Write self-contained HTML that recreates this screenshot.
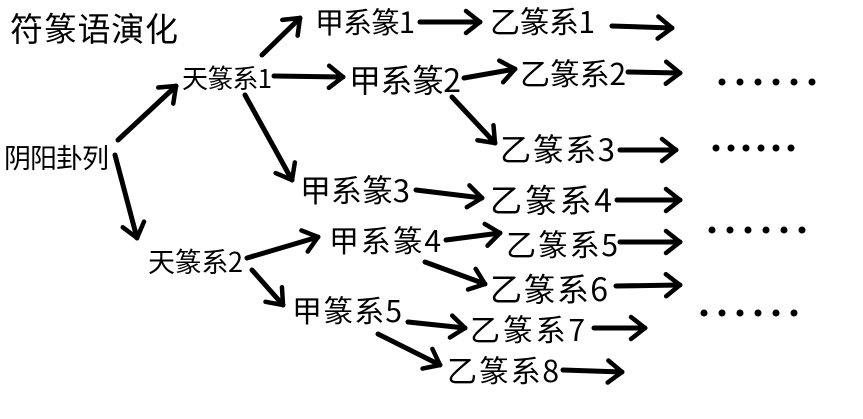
<!DOCTYPE html>
<html><head><meta charset="utf-8"><style>
html,body{margin:0;padding:0;background:#fff;}
svg{display:block;}
text{font-family:"Noto Sans CJK SC","Liberation Sans",sans-serif;fill:#000;}
</style></head><body>
<svg width="863" height="419" viewBox="0 0 863 419" xmlns="http://www.w3.org/2000/svg">
<defs>
<marker id="a" markerUnits="userSpaceOnUse" markerWidth="30" markerHeight="30" refX="20" refY="15" orient="auto" viewBox="0 0 30 30">
<path d="M6,4 L20,15 L6,26" fill="none" stroke="#000" stroke-width="4.5" stroke-linecap="round" stroke-linejoin="round"/>
</marker>
</defs>
<g stroke="#000" stroke-width="5" stroke-linecap="round" fill="none" marker-end="url(#a)">
<line x1="118" y1="140" x2="176" y2="86"/>
<line x1="115" y1="155" x2="137" y2="238"/>
<line x1="262" y1="55" x2="300" y2="18"/>
<line x1="274" y1="76" x2="343" y2="77"/>
<line x1="245" y1="95" x2="292" y2="180"/>
<line x1="420" y1="22" x2="480" y2="22"/>
<line x1="612" y1="26" x2="672" y2="28"/>
<line x1="464" y1="78" x2="515" y2="69"/>
<line x1="628" y1="72" x2="680" y2="73"/>
<line x1="452" y1="97" x2="495" y2="143"/>
<line x1="620" y1="150" x2="676" y2="150"/>
<line x1="416" y1="190" x2="482" y2="198"/>
<line x1="617" y1="200" x2="680" y2="200"/>
<line x1="247" y1="258" x2="318" y2="237"/>
<line x1="446" y1="240" x2="500" y2="233"/>
<line x1="620" y1="242" x2="680" y2="242"/>
<line x1="425" y1="262" x2="485" y2="284"/>
<line x1="616" y1="286" x2="680" y2="285"/>
<line x1="252" y1="270" x2="283" y2="305"/>
<line x1="408" y1="322" x2="465" y2="328"/>
<line x1="594" y1="328" x2="645" y2="328"/>
<line x1="378" y1="334" x2="440" y2="365"/>
<line x1="563" y1="370" x2="622" y2="372"/>
</g>
<text x="10" y="41" font-size="33" textLength="168">符篆语演化</text>
<text x="4" y="168" font-size="27" textLength="105">阴阳卦列</text>
<text x="182" y="88" font-size="26" textLength="90">天篆系1</text>
<text x="315" y="33" font-size="29" textLength="100">甲系篆1</text>
<text x="490" y="33" font-size="30" textLength="105">乙篆系1</text>
<text x="349" y="92" font-size="32" textLength="112">甲系篆2</text>
<text x="520" y="85" font-size="30" textLength="106">乙篆系2</text>
<text x="500" y="161" font-size="31" textLength="115">乙篆系3</text>
<text x="300" y="202" font-size="31" textLength="110">甲系篆3</text>
<text x="490" y="212" font-size="32" textLength="122">乙篆系4</text>
<text x="148" y="272" font-size="27" textLength="95">天篆系2</text>
<text x="329" y="252" font-size="30" textLength="112">甲系篆4</text>
<text x="506" y="256" font-size="30" textLength="112">乙篆系5</text>
<text x="490" y="301" font-size="32" textLength="118">乙篆系6</text>
<text x="292" y="322" font-size="30" textLength="110">甲篆系5</text>
<text x="470" y="341" font-size="30" textLength="115">乙篆系7</text>
<text x="447" y="382" font-size="30" textLength="112">乙篆系8</text>
<g fill="#000">
<circle cx="722" cy="82" r="3.5"/><circle cx="740" cy="82" r="3.5"/><circle cx="758" cy="82" r="3.5"/><circle cx="776" cy="82" r="3.5"/><circle cx="794" cy="82" r="3.5"/><circle cx="812" cy="82" r="3.5"/>
<circle cx="716" cy="148" r="3.5"/><circle cx="731" cy="148" r="3.5"/><circle cx="746" cy="148" r="3.5"/><circle cx="761" cy="148" r="3.5"/><circle cx="776" cy="148" r="3.5"/><circle cx="791" cy="148" r="3.5"/>
<circle cx="712" cy="230" r="3.5"/><circle cx="730" cy="230" r="3.5"/><circle cx="748" cy="230" r="3.5"/><circle cx="766" cy="230" r="3.5"/><circle cx="784" cy="230" r="3.5"/><circle cx="802" cy="230" r="3.5"/>
<circle cx="704" cy="313" r="3.5"/><circle cx="722" cy="313" r="3.5"/><circle cx="740" cy="313" r="3.5"/><circle cx="758" cy="313" r="3.5"/><circle cx="776" cy="313" r="3.5"/><circle cx="794" cy="313" r="3.5"/>
</g>
</svg>
</body></html>
